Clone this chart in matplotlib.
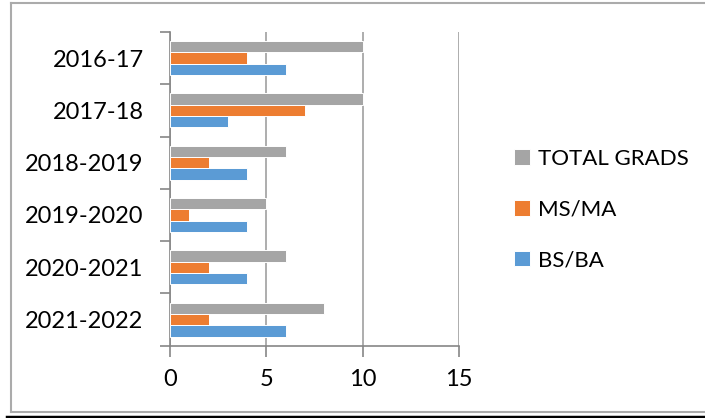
import matplotlib.pyplot as plt
import numpy as np
from matplotlib.lines import Line2D

plt.rcParams['font.family'] = ['Lato', 'DejaVu Sans']

# Data
years = ['2016-17', '2017-18', '2018-2019', '2019-2020', '2020-2021', '2021-2022']
total_grads = [10, 10, 6, 5, 6, 8]
ms_ma = [4, 7, 2, 1, 2, 2]
bs_ba = [6, 3, 4, 4, 4, 6]

W, H = 705, 418
fig = plt.figure(figsize=(W / 100, H / 100), dpi=100)
ax = fig.add_axes([170 / W, (H - 345.7) / H, (459 - 170) / W, (345.7 - 32) / H])

y = np.arange(len(years))
h = 0.217
ax.barh(y - h, total_grads, height=h, color='#A5A5A5', edgecolor='white', linewidth=0.7, label='TOTAL GRADS', zorder=3)
ax.barh(y, ms_ma, height=h, color='#ED7D31', edgecolor='white', linewidth=0.7, label='MS/MA', zorder=3)
ax.barh(y + h, bs_ba, height=h, color='#5B9BD5', edgecolor='white', linewidth=0.7, label='BS/BA', zorder=3)

ax.set_xlim(0, 15)
ax.set_ylim(len(years) - 0.5, -0.5)
ax.set_xticks([0, 5, 10, 15])
ax.set_yticks(y)
ax.set_yticklabels(years)
ax.set_yticks(np.arange(-0.5, len(years), 1), minor=True)

ax.grid(axis='x', color='#A0A0A0', linewidth=1.2, zorder=0)
for s in ['top', 'right']:
    ax.spines[s].set_visible(False)
for s in ['left', 'bottom']:
    ax.spines[s].set_color('#868686')
    ax.spines[s].set_linewidth(1.2)

ax.tick_params(axis='y', which='major', length=0, pad=19, labelsize=17)
ax.tick_params(axis='y', which='minor', length=7, width=1.2, color='#868686')
ax.tick_params(axis='x', which='major', length=8, width=1.2, color='#868686', pad=9, labelsize=17)

handles, labels = ax.get_legend_handles_labels()
fig.legend(handles, labels, loc='upper left', bbox_to_anchor=(514 / W, (H - 149) / H),
           frameon=False, fontsize=16, handlelength=0.72, handleheight=0.72,
           handletextpad=0.38, labelspacing=1.38, borderpad=0, borderaxespad=0)

# chart frame
fig.add_artist(Line2D([11 / W, 11 / W], [(H - 3) / H, (H - 412) / H], color='#ABABAB', linewidth=1.5))
fig.add_artist(Line2D([11 / W, 1.0], [(H - 3) / H, (H - 3) / H], color='#ABABAB', linewidth=1.5))
fig.add_artist(Line2D([11 / W, 1.0], [(H - 412) / H, (H - 412) / H], color='#ABABAB', linewidth=1.5))
fig.add_artist(Line2D([7 / W, 1.0], [(H - 416.5) / H, (H - 416.5) / H], color='black', linewidth=2.5))

fig.savefig('out.png', dpi=100)
